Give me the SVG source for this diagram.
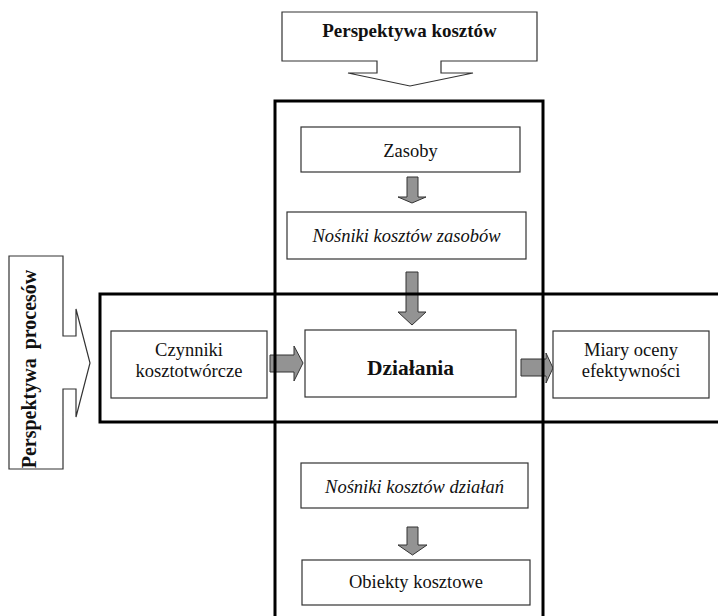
<svg xmlns="http://www.w3.org/2000/svg" width="718" height="616" viewBox="0 0 718 616">
<style>
.box{fill:#fff;stroke:#333;stroke-width:1.2}
.frame{fill:none;stroke:#000;stroke-width:3}
.arr{fill:#939393;stroke:#333;stroke-width:1}
.t{font-family:"Liberation Serif","Times New Roman",serif;font-size:18.5px;fill:#111;text-anchor:middle}
.b{font-weight:bold}
.i{font-style:italic}
</style>
<rect width="718" height="616" fill="#fff"/>
<g id="perspektywa-kosztow">
<polygon class="box" points="282,12 537,12 537,61 441,61 441,73 473,73 410,86 348,73 377,73 377,61 282,61"/>
<text class="t b" x="409.5" y="37" style="font-size:19px">Perspektywa kosztów</text>
</g>
<g id="perspektywa-procesow">
<polygon class="box" points="9,256 63,256 63,336 76,336 76,309 90,363 76,417 76,389 63,389 63,469 9,469"/>
<text class="t b" transform="translate(36,369) rotate(-90)" style="font-size:20px" word-spacing="4">Perspektywa procesów</text>
</g>
<g id="connectors">
<polygon class="arr" points="407,177 418,177 418,197 426,197 412,203 398,197 407,197"/>
<polygon class="arr" points="406,272 418,272 418,312 426,312 412,325 398,312 406,312"/>
<polygon class="arr" points="407,527 418,527 418,545 427,545 412.5,555 398,545 407,545"/>
<polygon class="arr" points="270,355 294,355 294,346 303,363 294,381 294,372 270,372"/>
<polygon class="arr" points="521,359 546,359 546,353 553,368 546,383 546,376 521,376"/>
</g>
<g id="frames">
<rect class="frame" x="275" y="101" width="268" height="530"/>
<rect class="frame" x="100" y="294" width="630" height="128"/>
</g>
<g id="zasoby">
<rect class="box" x="301" y="127" width="219" height="45"/>
<text class="t" x="410.5" y="157">Zasoby</text>
</g>
<g id="nosniki-zasobow">
<rect class="box" x="287" y="212" width="239" height="47"/>
<text class="t i" x="406.5" y="242">Nośniki kosztów zasobów</text>
</g>
<g id="dzialania">
<rect class="box" x="305" y="330" width="211" height="67"/>
<text class="t b" x="410.5" y="375" style="font-size:21.5px">Działania</text>
</g>
<g id="czynniki">
<rect class="box" x="111" y="331" width="156" height="67"/>
<text class="t" x="189" y="356">Czynniki</text>
<text class="t" x="189" y="377">kosztotwórcze</text>
</g>
<g id="miary">
<rect class="box" x="553" y="331" width="156" height="67"/>
<text class="t" x="631" y="356">Miary oceny</text>
<text class="t" x="631" y="377">efektywności</text>
</g>
<g id="nosniki-dzialan">
<rect class="box" x="301" y="463" width="227" height="45"/>
<text class="t i" x="414.5" y="493">Nośniki kosztów działań</text>
</g>
<g id="obiekty">
<rect class="box" x="302" y="560" width="228" height="45"/>
<text class="t" x="416" y="588">Obiekty kosztowe</text>
</g>
</svg>
